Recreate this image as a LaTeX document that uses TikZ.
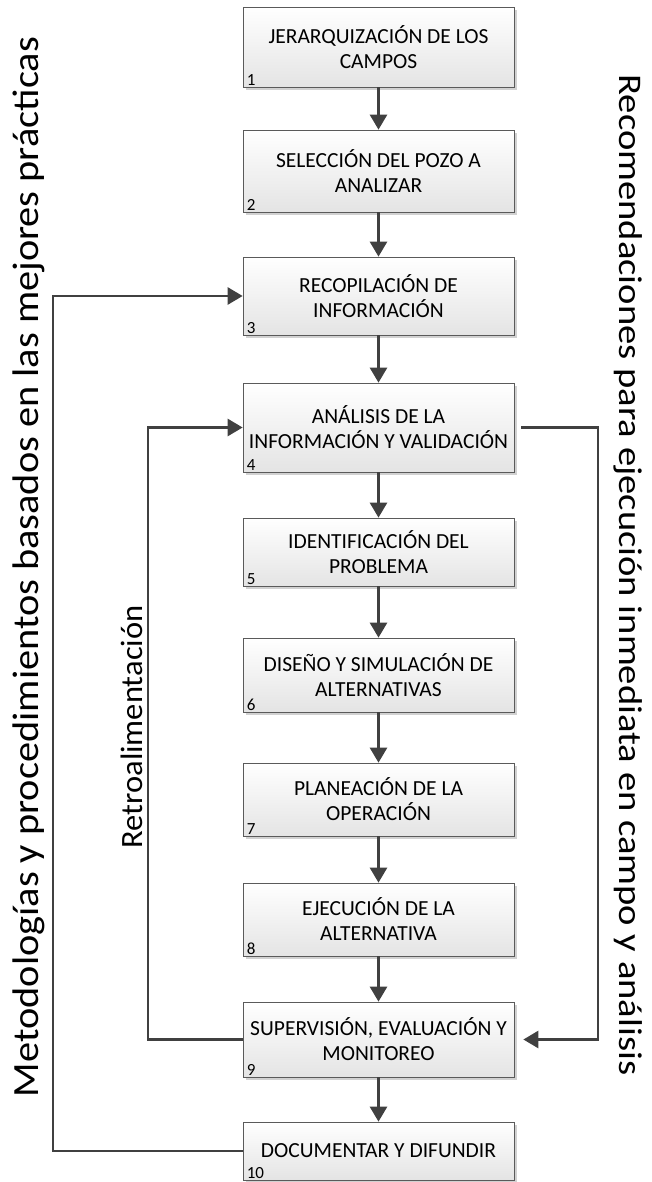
\documentclass[tikz,border=0pt]{standalone}
\usepackage{fontspec}
\setmainfont{Carlito}
\usetikzlibrary{arrows.meta,shadows}
\definecolor{linegray}{HTML}{404040}
\definecolor{boxline}{HTML}{5A5A5A}
\definecolor{boxbottom}{HTML}{E4E4E4}

\begin{document}
\begin{tikzpicture}[x=1pt, y=-1pt,
    stage/.style={rectangle, draw=boxline, line width=0.7pt, top color=white,
        bottom color=boxbottom, minimum width=271pt, align=center,
        font=\fontsize{21.5}{25}\selectfont, inner sep=0pt,
        drop shadow={shadow xshift=3pt, shadow yshift=-3pt, fill=black, opacity=0.18}},
    num/.style={anchor=south west, inner sep=1pt, xshift=3pt, yshift=1pt,
        font=\fontsize{17}{17}\selectfont},
    side/.style={inner sep=0pt},
    edge/.style={line width=2.7pt, draw=linegray,
        -{Triangle[width=17pt, length=15pt]}}
]
    \useasboundingbox (0,0) rectangle (652,1182);
    \node[stage, minimum height=80pt] (b1) at (378.5,47) {JERARQUIZACIÓN DE LOS\\CAMPOS};
    \node[stage, minimum height=82pt] (b2) at (378.5,171) {SELECCIÓN DEL POZO A\\ANALIZAR};
    \node[stage, minimum height=78pt] (b3) at (378.5,296) {RECOPILACIÓN DE\\INFORMACIÓN};
    \node[stage, minimum height=89pt] (b4) at (378.5,427.5) {ANÁLISIS DE LA\\INFORMACIÓN Y VALIDACIÓN};
    \node[stage, minimum height=68pt] (b5) at (378.5,552) {IDENTIFICACIÓN DEL\\PROBLEMA};
    \node[stage, minimum height=74pt] (b6) at (378.5,675) {DISEÑO Y SIMULACIÓN DE\\ALTERNATIVAS};
    \node[stage, minimum height=73pt] (b7) at (378.5,799.5) {PLANEACIÓN DE LA\\OPERACIÓN};
    \node[stage, minimum height=73pt] (b8) at (378.5,919.5) {EJECUCIÓN DE LA\\ALTERNATIVA};
    \node[stage, minimum height=75pt] (b9) at (378.5,1039.5) {SUPERVISIÓN, EVALUACIÓN Y\\MONITOREO};
    \node[stage, minimum height=58pt] (b10) at (378.5,1151) {DOCUMENTAR Y DIFUNDIR};
    \node[num] (n1) at (b1.south west) {1};
    \node[num] (n2) at (b2.south west) {2};
    \node[num] (n3) at (b3.south west) {3};
    \node[num] (n4) at (b4.south west) {4};
    \node[num] (n5) at (b5.south west) {5};
    \node[num] (n6) at (b6.south west) {6};
    \node[num] (n7) at (b7.south west) {7};
    \node[num] (n8) at (b8.south west) {8};
    \node[num] (n9) at (b9.south west) {9};
    \node[num] (n10) at (b10.south west) {10};
    \draw[edge] (b1) -- (b2);
    \draw[edge] (b2) -- (b3);
    \draw[edge] (b3) -- (b4);
    \draw[edge] (b4) -- (b5);
    \draw[edge] (b5) -- (b6);
    \draw[edge] (b6) -- (b7);
    \draw[edge] (b7) -- (b8);
    \draw[edge] (b8) -- (b9);
    \draw[edge] (b9) -- (b10);
    % loops at the sides
    \coordinate (outer) at (53,0);
    \coordinate (inner) at (148,0);
    \coordinate (right) at (598,0);
    \draw[edge] (b10.west) -- (b10.west -| outer) -- (b3.west -| outer) -- (b3.west);
    \draw[edge] (b9.west) -- (b9.west -| inner) -- (b4.west -| inner) -- (b4.west);
    \draw[edge] ([xshift=7pt]b4.east) -- (b4.east -| right) -- (b9.east -| right)
        -- ([xshift=9pt]b9.east);
    \node[side, rotate=90, xscale=1.09, font=\fontsize{37}{37}\selectfont] (metodos)
        at (29,567) {Metodologías y procedimientos basados en las mejores prácticas};
    \node[side, rotate=90, xscale=1.05, font=\fontsize{31}{31}\selectfont] (retro)
        at (132,727) {Retroalimentación};
    \node[side, rotate=-90, xscale=1.17, font=\fontsize{33}{33}\selectfont] (recom)
        at (628,575) {Recomendaciones para ejecución inmediata en campo y análisis};
\end{tikzpicture}
\end{document}
